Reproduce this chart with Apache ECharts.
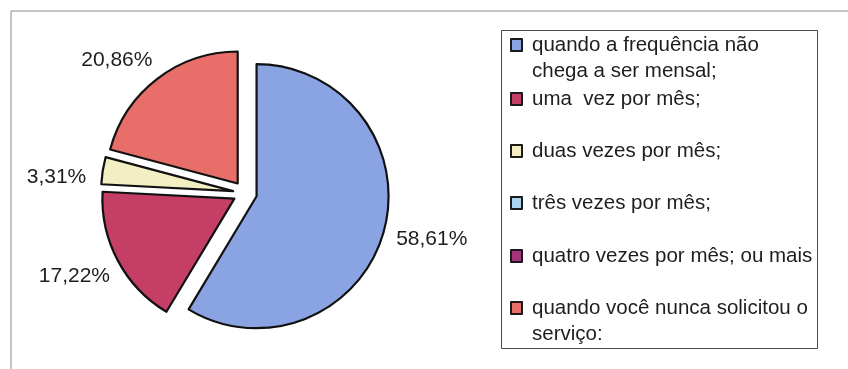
<!DOCTYPE html>
<html>
<head>
<meta charset="utf-8">
<script src="https://cdn.jsdelivr.net/npm/echarts@6/dist/echarts.min.js"></script>
<style>
  html, body { margin: 0; padding: 0; background: #ffffff; }
  #chart { width: 848px; height: 369px; }
</style>
</head>
<body>
<div id="chart"></div>
<script>
// Frequência de solicitação do serviço
const categories = [
  'quando a frequência não\nchega a ser mensal;',
  'uma  vez por mês;',
  'duas vezes por mês;',
  'três vezes por mês;',
  'quatro vezes por mês; ou mais',
  'quando você nunca solicitou o\nserviço:'
];
const values = [58.61, 17.22, 3.31, 0, 0, 20.86];
const colors = ['#8aa3e3', '#c43e66', '#f4efc2', '#a9d5f3', '#a8327c', '#e86f69'];

const FONT = '"Liberation Sans", Arial, sans-serif';
const TEXT = '#1e1e1e';

// small per-label nudges (px) away from the radial placement
const labelNudge = [[6, -4], [-5, -5], [-9, 13], [0, 0], [0, 0], [-14, 16]];

const pieData = categories.map((name, i) => {
  const empty = values[i] === 0;
  return {
    name: name,
    value: values[i],
    selected: !empty,
    itemStyle: { color: colors[i], borderWidth: empty ? 0 : 2.2 },
    label: { show: !empty },
    labelLine: { show: false, length: 44, length2: -41 }
  };
});

// One legend block per entry so each symbol sits beside the first text line
const rowCenters = [45, 99, 151, 203, 256, 308];
const legends = categories.map((name, i) => {
  const twoLines = name.indexOf('\n') >= 0;
  return {
    data: [name],
    orient: 'vertical',
    left: 510,
    top: twoLines ? rowCenters[i] - 39 : rowCenters[i] - 13,
    padding: 0,
    icon: 'rect',
    itemWidth: 11,
    itemHeight: 12,
    selectedMode: false,
    itemStyle: { borderColor: '#1a1a1a', borderWidth: 2 },
    // a blank leading line keeps the symbol level with the first text line
    formatter: n => (n.indexOf('\n') >= 0 ? '\n' + n : n),
    textStyle: {
      fontFamily: FONT,
      fontSize: 20.5,
      color: TEXT,
      lineHeight: 26,
      padding: [0, 0, 0, 5]
    }
  };
});

const chart = echarts.init(document.getElementById('chart'), null, { renderer: 'canvas' });
chart.setOption({
  backgroundColor: '#ffffff',
  animation: false,
  legend: legends,
  graphic: [
    {
      type: 'rect',
      shape: { x: 11, y: 11, width: 900, height: 420 },
      style: { fill: 'none', stroke: '#8c8c8c', lineWidth: 1 },
      silent: true,
      z: -1
    },
    {
      type: 'rect',
      shape: { x: 501.5, y: 30.5, width: 316, height: 318 },
      style: { fill: 'none', stroke: '#4a4a4a', lineWidth: 1 },
      silent: true,
      z: -1
    }
  ],
  series: [
    {
      type: 'pie',
      center: [245, 193],
      radius: 132,
      startAngle: 90,
      clockwise: true,
      selectedMode: 'multiple',
      selectedOffset: 12,
      avoidLabelOverlap: false,
      emphasis: { disabled: true },
      select: { itemStyle: { borderColor: '#111111', borderWidth: 2.2 } },
      itemStyle: { borderColor: '#111111', borderWidth: 2.2 },
      label: {
        position: 'outside',
        fontFamily: FONT,
        fontSize: 21,
        color: TEXT,
        formatter: p => p.value.toFixed(2).replace('.', ',') + '%'
      },
      labelLayout: p => {
        const n = labelNudge[p.dataIndex] || [0, 0];
        return { dx: n[0], dy: n[1] };
      },
      data: pieData
    }
  ]
});
</script>
</body>
</html>
